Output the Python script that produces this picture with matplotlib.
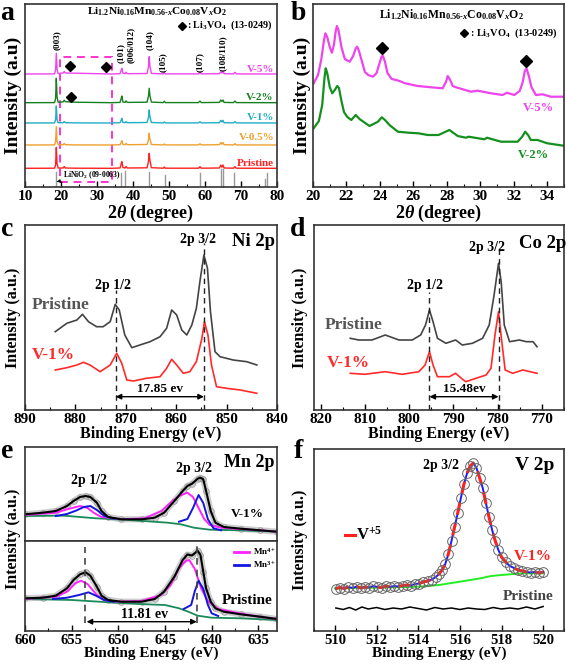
import matplotlib
matplotlib.use('Agg')
import matplotlib.pyplot as plt
from matplotlib.ticker import MultipleLocator
from matplotlib.patches import Rectangle

plt.rcParams['font.family'] = ['Liberation Serif', 'DejaVu Serif']
plt.rcParams['font.weight'] = 'bold'
plt.rcParams['axes.labelweight'] = 'bold'
plt.rcParams['mathtext.fontset'] = 'custom'
plt.rcParams['mathtext.rm'] = 'Liberation Serif:bold'
plt.rcParams['mathtext.bf'] = 'Liberation Serif:bold'
plt.rcParams['mathtext.it'] = 'Liberation Serif:italic:bold'

# ---------------- Panel a : XRD ----------------
xrd_x = [10, 18.2, 18.5, 18.7, 18.9, 19.2, 20.6, 20.9, 21.2, 24, 34, 36.4, 36.7, 36.9, 37.2,
         37.8, 38.1, 38.4, 43.9, 44.3, 44.5, 44.7, 45.1, 48.4, 48.7, 49.0, 58.2, 58.6, 59.0,
         64.0, 64.4, 64.7, 65.0, 65.3, 67.9, 68.3, 68.7, 80]
xrd_pristine = [0, 0.1, 3, 21, 5, 0.3, 0.3, 1.8, 0.3, 0.1, 0, 0.3, 4, 6.6, 0.8, 0.3, 1.8, 0.3,
                0.5, 7, 15, 8, 0.6, 0.1, 1.3, 0.1, 0.1, 1.6, 0.1, 0.3, 3.3, 1.1, 3.3, 0.3, 0.1, 1.6, 0.1, 0]
xrd_v05 = [0, 0.1, 3, 18.3, 4, 0.3, 0.3, 1.5, 0.3, 0.1, 0, 0.3, 2.5, 4.3, 0.6, 0.3, 1.5, 0.3,
           0.5, 5, 11.7, 6, 0.5, 0.1, 1, 0.1, 0.1, 1.2, 0.1, 0.3, 2.5, 0.8, 2.5, 0.3, 0.1, 1.3, 0.1, 0]
xrd_v1 = [0, 0.1, 3, 17, 4, 0.3, 0.3, 1.5, 0.3, 0.1, 0, 0.3, 2.7, 4.7, 0.6, 0.3, 1.5, 0.3,
          0.5, 5.5, 13, 6.5, 0.5, 0.1, 1.1, 0.1, 0.1, 1.3, 0.1, 0.3, 2.7, 0.9, 2.7, 0.3, 0.1, 1.4, 0.1, 0]
xrd_v2 = [0, 0.1, 4, 24.4, 6, 0.5, 0.8, 2.5, 1, 0.5, 0, 0.3, 4, 6.7, 0.8, 0.3, 1.8, 0.3,
          0.5, 6.5, 14.4, 7, 0.6, 0.1, 1.5, 0.1, 0.1, 1.6, 0.1, 0.3, 2.7, 1.2, 2.7, 0.3, 0.1, 1.6, 0.1, 0]
xrd_v5 = [0, 0.1, 4, 20.7, 5, 0.5, 1, 2.5, 1, 0.8, 0, 0.3, 3.5, 5.7, 0.8, 0.3, 1.8, 0.3,
          0.5, 7, 17.3, 8, 0.6, 0.1, 1.5, 0.1, 0.1, 1.5, 0.1, 0.3, 2.3, 1, 2.3, 0.3, 0.1, 1.6, 0.1, 0]
xrd_names = ['Pristine', 'V-0.5%', 'V-1%', 'V-2%', 'V-5%']
xrd_offsets = [18.7, 42, 64, 84.3, 113]
xrd_colors = ['#ff2020', '#f0a030', '#20aec4', '#14801e', '#ee44ee']
ref_pos = [18.7, 36.6, 37.9, 44.4, 48.8, 58.7, 64.4, 65.0, 68.0, 76.7, 77.3]
ref_height = [15, 13.7, 16, 15, 12, 13.7, 18, 18, 13.7, 8, 13.7]
hkl_labels = ['(003)', '(101)', '(006/012)', '(104)', '(105)', '(107)', '(108/110)']
hkl_pos = [18.9, 36.5, 39.4, 44.7, 48.3, 58.6, 65.0]
hkl_base = [137, 124, 124, 137, 115, 115, 116]

# ---------------- Panel b : XRD zoom ----------------
b5_x = [20.04, 20.3, 20.5, 20.65, 20.74, 20.85, 21.0, 21.13, 21.25, 21.35, 21.43, 21.52, 21.7,
        21.9, 22.19, 22.4, 22.55, 22.64, 22.75, 22.95, 23.1, 23.3, 23.58, 23.8, 23.98, 24.1,
        24.18, 24.3, 24.45, 24.7, 24.97, 25.17, 25.5, 26.26, 27.06, 27.75, 27.95, 28.05, 28.2,
        28.35, 28.55, 29.44, 29.84, 30.64, 31.33, 31.59, 32.03, 32.35, 32.52, 32.66, 32.76,
        32.9, 33.05, 33.32, 33.72, 34.21, 34.97]
b5_y = [103.7, 112, 128, 146, 153.7, 150, 140, 134.3, 142, 155, 161, 157, 140,
        128, 125.3, 131, 138.5, 140.3, 136, 124, 115, 112, 110.3, 114, 124, 130.5,
        131, 125.3, 114, 108, 107, 106, 103.7, 101, 99.7, 98.7, 105.3, 111, 107,
        101, 99.7, 95.3, 96.3, 93.7, 92, 94.3, 92, 96, 104, 116, 118.5,
        111, 100, 92, 92.7, 90.3, 90.3]
b2_x = [20.04, 20.35, 20.55, 20.68, 20.76, 20.85, 21.0, 21.15, 21.3, 21.45, 21.55, 21.7, 21.85,
        22.05, 22.29, 22.55, 22.8, 23.38, 23.88, 24.11, 24.3, 24.57, 25.07, 25.7, 26.3, 26.86,
        27.5, 28.15, 28.65, 29.14, 29.3, 30.24, 30.4, 31.23, 32.23, 32.5, 32.68, 32.85, 33.02,
        33.42, 34.0, 34.97]
b2_y = [58.7, 66, 82, 108, 118.7, 114, 100, 93.7, 97, 101, 99, 86, 75,
        70, 67, 72, 67.7, 61, 65.3, 69.7, 67, 62, 55.3, 54.3, 53.7, 52,
        52, 57, 51, 49.3, 50.3, 47.7, 49.3, 45.3, 45.3, 50.3, 55.3, 52, 47,
        47, 43.7, 41.3]

# ---------------- Panel c : Ni 2p ----------------
ni_pr_x = [884.0, 881.7, 879.7, 878.6, 877.4, 875.8, 874.5, 873.1, 872.1, 871.3, 870.2, 868.8,
           867.2, 865.2, 863.2, 861.9, 860.9, 859.9, 858.9, 857.9, 856.9, 856.0, 855.3, 854.5,
           853.8, 853.2, 852.3, 851.3, 848.7, 846.0, 844.0]
ni_pr_y = [78.3, 86.7, 90, 95.7, 88.3, 83.3, 83.3, 88.3, 105.7, 100, 75, 62.3,
           65, 68.3, 73.3, 81.7, 100, 95, 80, 75, 85, 101.7, 128.3, 155,
           141.7, 98.3, 58.3, 53.3, 50, 48.3, 45]
ni_v1_x = [884.0, 881.7, 879.7, 878.4, 877.1, 875.1, 873.1, 871.8, 870.8, 869.8, 868.5, 865.9,
           863.2, 861.9, 860.9, 859.9, 858.6, 857.3, 856.0, 854.9, 854.4, 853.7, 853.0, 852.0,
           850.0, 847.3, 844.0]
ni_v1_y = [40, 42.3, 45, 47.7, 45, 38.3, 45, 56.7, 46.7, 30, 29, 31.7,
           33.3, 41.7, 50.7, 45, 36.7, 38.3, 48.3, 71.7, 88.3, 75, 45, 23.3,
           21.7, 20, 16.7]

# ---------------- Panel d : Co 2p ----------------
co_pr_x = [813.3, 811.4, 808.4, 805.4, 802.3, 799.3, 797.4, 796.3, 795.4, 794.6, 793.6, 791.7,
           789.5, 788.0, 785.7, 783.4, 781.9, 780.8, 779.8, 779.2, 778.5, 777.3, 775.1, 773.5,
           772.0, 771.1]
co_pr_y = [71.7, 70, 70, 75, 70, 70, 75, 85, 100, 88.3, 71.7, 66.7,
           70, 65, 66.7, 71.7, 85, 115, 146.7, 128.3, 85, 68.3, 70, 68.3,
           68.3, 63.3]
co_v1_x = [813.3, 810.0, 805.4, 801.6, 797.8, 796.4, 795.4, 794.6, 793.6, 790.9, 789.5, 788.0,
           787.2, 784.9, 782.6, 781.5, 780.6, 779.8, 779.1, 778.3, 776.6, 774.3, 771.1]
co_v1_y = [36.7, 35.7, 38.3, 35.7, 38.3, 45, 58.3, 45, 33.3, 33.3, 36.7, 31,
           28.3, 31.7, 35, 41.7, 75, 98.3, 70, 40, 36.7, 40, 36.7]

# ---------------- Panel e : Mn 2p ----------------
mn_x = [660.0, 658.1, 656.7, 655.5, 654.8, 654.1, 653.5, 653.0, 652.3, 651.8, 651.1, 649.7,
        647.5, 646.1, 645.1, 644.0, 643.1, 642.6, 642.1, 641.5, 641.2, 640.9, 640.6, 640.1,
        639.6, 638.7, 636.9, 634.8, 633.0]
mn_v1_total = [26.7, 28.3, 30, 35, 40, 44, 45, 44, 38.3, 30, 24, 21.7,
               21.7, 23.3, 28.3, 40, 50, 55, 57.3, 62.3, 63.3, 61.7, 50, 30,
               18.3, 14, 12.3, 10.7, 9.3]
mn_pr_total = [32.7, 33.3, 35.3, 42.7, 51, 56.7, 58.7, 55.3, 44.3, 35.3, 31, 29.3,
               29.3, 32, 39.3, 54.3, 71, 76.5, 75.5, 80.3, 76, 59.3, 42.7, 29.3,
               22.7, 19.3, 16.7, 14.3, 12]
mn_v1_mn4_x = [660, 656.7, 655.5, 654.1, 653.3, 652.6, 651.8, 649.6, 647.2, 645.4, 644.4, 643.5,
               642.6, 642.0, 641.4, 640.8, 640.2, 639.0, 637.0, 634.8, 633.0]
mn_v1_mn4_y = [26, 28.3, 31.7, 35, 33, 28, 24, 21.7, 22.7, 30, 38.3, 45,
               48.3, 44, 33, 22, 16, 13.3, 12, 10.7, 9.3]
mn_v1_mn3a_x = [656.7, 655.5, 654.5, 653.7, 653.0, 652.3, 651.5, 650.5]
mn_v1_mn3a_y = [25, 27, 30.5, 34, 35, 31, 25, 22.5]
mn_v1_mn3b_x = [643.5, 642.6, 642.0, 641.4, 640.9, 640.4, 639.8, 639.0]
mn_v1_mn3b_y = [19.3, 22, 33, 46, 38, 21.7, 12.7, 10.7]
mn_v1_bg_x = [660, 655.8, 652.4, 648.9, 644.7, 643.3, 641.9, 640.2, 637, 633]
mn_v1_bg_y = [25, 25.3, 22.7, 21, 18.3, 16.7, 13.3, 11.3, 10.7, 9.3]
mn_pr_mn4_x = [660, 656.7, 655.5, 654.6, 654.0, 653.3, 652.3, 651.6, 650, 647.5, 645.4, 644.4,
               643.5, 642.8, 642.4, 641.8, 641.1, 640.4, 639.3, 637.5, 635, 633]
mn_pr_mn4_y = [32, 34.3, 39.3, 47.7, 50.3, 47, 36, 31, 29.3, 30, 36, 46,
               62.7, 70, 71, 62, 42, 30, 22, 18.5, 14.3, 12]
mn_pr_mn3a_x = [657, 655.5, 654.2, 653.2, 652.4, 651.5, 650.5]
mn_pr_mn3a_y = [32, 33.3, 36, 38.7, 35.3, 31, 29.3]
mn_pr_mn3b_x = [643.0, 642.2, 641.8, 641.4, 640.9, 640.4, 640.0, 639.3]
mn_pr_mn3b_y = [22, 26, 40, 50.3, 42, 26, 17.7, 15]
mn_pr_bg_x = [660, 655, 651, 647, 645, 643.5, 642.5, 641.5, 640, 637, 633]
mn_pr_bg_y = [32, 31, 28.7, 26.7, 26, 22.7, 19.3, 15.3, 13.3, 12.7, 11]

# ---------------- Panel f : V 2p ----------------
v_x = [510.05, 510.25, 510.45, 510.65, 510.85, 511.05, 511.25, 511.45, 511.65, 511.85, 512.05,
       512.25, 512.45, 512.65, 512.85, 513.05, 513.25, 513.45, 513.65, 513.85, 514.05, 514.25,
       514.45, 514.65, 514.85, 515.0, 515.15, 515.3, 515.45, 515.6, 515.75, 515.9, 516.05,
       516.2, 516.35, 516.5, 516.65, 516.8, 516.95, 517.1, 517.25, 517.4, 517.55, 517.7,
       517.85, 518.0, 518.2, 518.4, 518.6, 518.8, 519.0, 519.2, 519.4, 519.6, 519.8, 520.0]
v_v1 = [42.5, 43.5, 42.5, 44, 43, 44.5, 43, 44, 43.5, 45, 44,
        43.5, 45, 44, 45, 44.5, 45.5, 46, 45.5, 47, 47.5, 49,
        50, 51.5, 54, 57, 61, 67, 77, 90, 104, 118, 133,
        147, 158, 165, 168, 163, 153, 143, 128, 114, 101, 90,
        81, 74, 69, 65, 63, 61, 60, 59, 58.5, 59, 58, 59]
v_bg_x = [510.0, 512.0, 514.0, 515.0, 516.0, 517.0, 517.5, 518.0, 519.0, 520.0]
v_bg_y = [42.7, 43.3, 44.3, 46, 49.3, 52.7, 55, 56, 57.7, 57.7]
v_pr_x = [510.05, 510.4, 510.7, 511.0, 511.3, 511.6, 512.0, 512.4, 512.8, 513.2, 513.6, 514.0,
          514.4, 514.8, 515.2, 515.6, 516.0, 516.4, 516.8, 517.2, 517.6, 518.0, 518.4, 518.8,
          519.2, 519.6, 520.0]
v_pr_y = [23, 21.5, 23.5, 21, 24, 22, 23.5, 21.5, 23, 22, 24, 22.5,
          21, 23.5, 22, 23, 21.5, 23, 22, 21.5, 23.5, 22, 23, 22, 24, 22, 24.5]

W, H = 567, 667
fig = plt.figure(figsize=(W / 100, H / 100), dpi=100)


def axes_px(l, t, r, b):
    return fig.add_axes([l / W, 1 - b / H, (r - l) / W, (b - t) / H])


def style(ax, major, minor, ticksize=11, labels=True):
    for s in ax.spines.values():
        s.set_linewidth(1.2)
        s.set_color('#333333')
    ax.set_yticks([])
    ax.xaxis.set_major_locator(MultipleLocator(major))
    ax.xaxis.set_minor_locator(MultipleLocator(minor))
    ax.tick_params(axis='x', which='major', direction='in', length=4, width=1, top=False,
                   labelsize=ticksize, pad=2, labelbottom=labels)
    ax.tick_params(axis='x', which='minor', direction='in', length=2, width=0.8, top=False)


def ylab(ax, txt, xpx, size):
    l = ax.get_position().x0 * W
    wpx = ax.get_position().width * W
    ax.set_ylabel(txt, fontsize=size, fontweight='bold')
    ax.yaxis.set_label_coords((xpx - l) / wpx, 0.5)
    ax.yaxis.label.set_va('center')


title_txt = r'Li$_{1.2}$Ni$_{0.16}$Mn$_{0.56\text{-}x}$Co$_{0.08}$V$_{x}$O$_{2}$'
dash = (0, (4, 3))

# ---- a ----
ax = axes_px(25, 4, 277, 187)
for rel, off, col in zip([xrd_pristine, xrd_v05, xrd_v1, xrd_v2, xrd_v5], xrd_offsets, xrd_colors):
    ax.plot(xrd_x, [off + v for v in rel], color=col, lw=1.0)
for p, h in zip(ref_pos, ref_height):
    ax.plot([p, p], [0, h], color='#999999', lw=1.0)
ax.set_xlim(10, 80)
ax.set_ylim(0, 183)
style(ax, 10, 5, 11)
ax.set_xlabel(r'2$\it{\theta}$ (degree)', fontsize=13, labelpad=0)
ylab(ax, 'Intensity (a.u)', 13, 14)
lab_pos = [(73.9, 24), (74.4, 49), (75.3, 69), (75.3, 90), (75.3, 117)]
for (lx, ly), col, name in zip(lab_pos, xrd_colors, xrd_names):
    ax.text(lx, ly, name, color=col, fontsize=8, ha='center', va='center', fontweight='bold')
ax.add_patch(Rectangle((19.8, 5), 14.5, 125, fill=False, ec='#ff33cc', ls=dash, lw=1.4))
ax.plot([22.5, 32.5], [121, 120.3], 'kD', ms=5, ls='none')
ax.plot([22.8], [90.3], 'kD', ms=5)
ax.text(46.7, 175.5, title_txt, fontsize=8.2, ha='center', va='center')
ax.plot([53.5], [161.5], 'kD', ms=4.5)
ax.text(55, 161.5, r': Li$_3$VO$_4$  (13-0249)', fontsize=7.3, ha='left', va='center')
for t, xp, yb in zip(hkl_labels, hkl_pos, hkl_base):
    ax.text(xp, yb, t, rotation=90, fontsize=6.6, ha='center', va='bottom')
ax.annotate(r'LiNiO$_2$ (09-0063)', xy=(18.8, 5.3), xytext=(20.5, 12), fontsize=5.5,
            ha='left', va='center',
            arrowprops=dict(arrowstyle='-|>', color='black', lw=0.6, mutation_scale=5))
fig.text(7 / W, 1 - 14 / H, 'a', fontsize=20, fontweight='bold', ha='center', va='center')

# ---- b ----
ax = axes_px(313, 4, 564, 187)
ax.plot(b5_x, b5_y, color='#ee44ee', lw=1.6)
ax.plot(b2_x, b2_y, color='#14901e', lw=1.6)
ax.set_xlim(20, 35)
ax.set_ylim(0, 183)
style(ax, 2, 1, 11)
ax.set_xlabel(r'2$\it{\theta}$ (degree)', fontsize=13, labelpad=0)
ylab(ax, 'Intensity (a.u)', 302, 14)
ax.text(28.3, 172, title_txt, fontsize=8.5, ha='center', va='center')
ax.plot([29.0], [154], 'kD', ms=4.5)
ax.text(29.4, 154, r': Li$_3$VO$_4$  (13-0249)', fontsize=7.5, ha='left', va='center')
ax.plot([24.15, 32.75], [139, 126], 'kD', ms=6, ls='none')
ax.text(33.45, 79, 'V-5%', color='#ee44ee', fontsize=9, ha='center', va='center')
ax.text(33.15, 32, 'V-2%', color='#14901e', fontsize=9, ha='center', va='center')
fig.text(298 / W, 1 - 14 / H, 'b', fontsize=20, fontweight='bold', ha='center', va='center')

# ---- c ----
ax = axes_px(25, 225, 277, 410)
ax.plot(ni_pr_x, ni_pr_y, color='#444444', lw=1.2)
ax.plot(ni_v1_x, ni_v1_y, color='#ff2a2a', lw=1.2)
ax.set_xlim(890, 840)
ax.set_ylim(0, 185)
style(ax, 10, 5, 11)
ax.set_xlabel('Binding Energy (eV)', fontsize=11.5, labelpad=0)
ylab(ax, 'Intensity (a.u.)', 13, 11.5)
ax.plot([872.0, 872.0], [0, 120], color='#222222', ls=dash, lw=1)
ax.plot([854.5, 854.5], [0, 167], color='#222222', ls=dash, lw=1)
ax.annotate('', xy=(872.0, 13.3), xytext=(854.5, 13.3),
            arrowprops=dict(arrowstyle='<|-|>', color='black', lw=1, mutation_scale=8,
                            shrinkA=0, shrinkB=0))
ax.text(863.2, 21, '17.85 ev', fontsize=9.5, ha='center', va='center')
ax.text(872.6, 124, '2p 1/2', fontsize=10, ha='center', va='center')
ax.text(855.6, 170, '2p 3/2', fontsize=10, ha='center', va='center')
ax.text(844.7, 168, 'Ni 2p', fontsize=13.5, ha='center', va='center')
ax.text(883.0, 105, 'Pristine', color='#555555', fontsize=12.5, ha='center', va='center')
ax.text(884.4, 55, 'V-1%', color='#ff2a2a', fontsize=12.5, ha='center', va='center')
fig.text(7 / W, 1 - 229 / H, 'c', fontsize=20, fontweight='bold', ha='center', va='center')

# ---- d ----
ax = axes_px(314, 225, 564, 410)
ax.plot(co_pr_x, co_pr_y, color='#444444', lw=1.2)
ax.plot(co_v1_x, co_v1_y, color='#ff2a2a', lw=1.2)
ax.set_xlim(821.5, 765)
ax.set_ylim(0, 185)
style(ax, 10, 5, 11)
ax.set_xlabel('Binding Energy (eV)', fontsize=11.5, labelpad=0)
ylab(ax, 'Intensity (a.u.)', 300, 11.5)
ax.plot([795.4, 795.4], [0, 118], color='#222222', ls=dash, lw=1)
ax.plot([779.8, 779.8], [0, 160], color='#222222', ls=dash, lw=1)
ax.annotate('', xy=(795.4, 13.3), xytext=(779.8, 13.3),
            arrowprops=dict(arrowstyle='<|-|>', color='black', lw=1, mutation_scale=8,
                            shrinkA=0, shrinkB=0))
ax.text(787.6, 20.5, '15.48ev', fontsize=9.5, ha='center', va='center')
ax.text(796.4, 125, '2p 1/2', fontsize=10, ha='center', va='center')
ax.text(782.3, 162, '2p 3/2', fontsize=10, ha='center', va='center')
ax.text(769.8, 167, 'Co 2p', fontsize=13.5, ha='center', va='center')
ax.text(812.6, 85, 'Pristine', color='#555555', fontsize=12.5, ha='center', va='center')
ax.text(813.7, 47, 'V-1%', color='#ff2a2a', fontsize=12.5, ha='center', va='center')
fig.text(298 / W, 1 - 229 / H, 'd', fontsize=20, fontweight='bold', ha='center', va='center')

# ---- e ----
axt = axes_px(25, 447, 277, 541)
axb = axes_px(25, 541, 277, 631)
for a_, tot, m4x, m4y, m3a, m3b, bg in [
        (axt, mn_v1_total, mn_v1_mn4_x, mn_v1_mn4_y, (mn_v1_mn3a_x, mn_v1_mn3a_y),
         (mn_v1_mn3b_x, mn_v1_mn3b_y), (mn_v1_bg_x, mn_v1_bg_y)),
        (axb, mn_pr_total, mn_pr_mn4_x, mn_pr_mn4_y, (mn_pr_mn3a_x, mn_pr_mn3a_y),
         (mn_pr_mn3b_x, mn_pr_mn3b_y), (mn_pr_bg_x, mn_pr_bg_y))]:
    a_.plot(mn_x, tot, color='#cfcfcf', lw=4.5, solid_capstyle='round')
    a_.plot(mn_x, tot, ls='none', marker='o', ms=4, mfc='none', mec='#9a9a9a', mew=0.6)
    a_.plot(bg[0], bg[1], color='#1a8a5a', lw=1.3)
    a_.plot(m4x, m4y, color='#ff22ff', lw=1.4)
    a_.plot(m3a[0], m3a[1], color='#1515e0', lw=1.4)
    a_.plot(m3b[0], m3b[1], color='#1515e0', lw=1.4)
    a_.plot(mn_x, tot, color='black', lw=1.5)
    a_.set_xlim(660, 633)
axt.set_ylim(0, 94)
axb.set_ylim(0, 90)
style(axt, 5, 2.5, 10.5, labels=False)
axt.tick_params(axis='x', which='both', length=0)
style(axb, 5, 2.5, 10.5)
axb.set_xlabel('Binding Energy (eV)', fontsize=11, labelpad=0)
fig.text(13 / W, 1 - 539 / H, 'Intensity (a.u.)', rotation=90, fontsize=11.5,
         fontweight='bold', ha='center', va='center')
axt.text(653.1, 60, '2p 1/2', fontsize=10, ha='center', va='center')
axt.text(641.9, 72, '2p 3/2', fontsize=10, ha='center', va='center')
axt.text(636.0, 78, 'Mn 2p', fontsize=13, ha='center', va='center')
axt.text(636.2, 27, 'V-1%', fontsize=9.5, ha='center', va='center')
axb.text(636.2, 31, 'Pristine', fontsize=11, ha='center', va='center')
axb.plot([653.6, 653.6], [8, 84], color='#444444', ls=dash, lw=1.2)
axb.plot([641.6, 641.6], [8, 88], color='#444444', ls=dash, lw=1.2)
axb.annotate('', xy=(653.4, 9.3), xytext=(641.6, 9.3),
             arrowprops=dict(arrowstyle='<|-|>', color='black', lw=1, mutation_scale=8,
                             shrinkA=0, shrinkB=0))
axb.text(647.2, 16, '11.81 ev', fontsize=10, ha='center', va='center')
axb.plot([637.6, 636.0], [79.3, 79.3], color='#ff22ff', lw=2)
axb.text(635.6, 79.3, r'Mn$^{4+}$', fontsize=6.5, ha='left', va='center')
axb.plot([637.6, 636.0], [66, 66], color='#1515e0', lw=2)
axb.text(635.6, 66, r'Mn$^{3+}$', fontsize=6.5, ha='left', va='center')
fig.text(7 / W, 1 - 451 / H, 'e', fontsize=20, fontweight='bold', ha='center', va='center')

# ---- f ----
ax = axes_px(314, 449, 564, 631)
ax.plot(v_bg_x, v_bg_y, color='#22ee22', lw=1.4)
ax.plot(v_x, v_v1, color='#1a1aff', lw=1.4)
ax.plot(v_x, v_v1, color='#ff2020', lw=2.2, ls=dash)
ax.plot(v_x, v_v1, ls='none', marker='o', ms=7, mfc='none', mec='#666666', mew=0.7)
ax.plot(v_pr_x, v_pr_y, color='black', lw=1.1)
ax.set_xlim(509, 521)
ax.set_ylim(0, 182)
style(ax, 2, 1, 10.5)
ax.set_xlabel('Binding Energy (eV)', fontsize=11, labelpad=0)
ylab(ax, 'Intensity (a.u.)', 300, 11.5)
ax.text(515.1, 166, '2p 3/2', fontsize=10, ha='center', va='center')
ax.text(519.6, 166, 'V 2p', fontsize=14, ha='center', va='center')
ax.plot([510.5, 510.95], [96, 96], color='#ff2020', lw=2.2)
ax.text(511.0, 96, r'V$^{+5}$', fontsize=12, ha='left', va='center')
ax.text(519.5, 74.3, 'V-1%', color='#ff2020', fontsize=11, ha='center', va='center')
ax.text(519.3, 34.3, 'Pristine', color='#444444', fontsize=11, ha='center', va='center')
fig.text(298 / W, 1 - 452 / H, 'f', fontsize=20, fontweight='bold', ha='center', va='center')

fig.savefig('out.png', dpi=100)
